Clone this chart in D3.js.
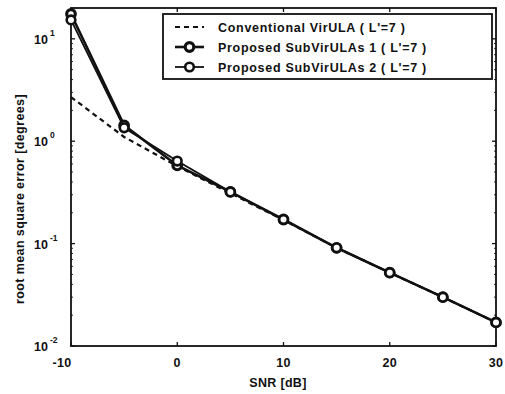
<!DOCTYPE html>
<html>
<head>
<meta charset="utf-8">
<script src="https://cdn.jsdelivr.net/npm/d3@7"></script>
<style>
  html, body { margin: 0; padding: 0; background: #fff; }
  svg text { font-family: "Liberation Sans", Arial, sans-serif; font-weight: bold; fill: #111; }
</style>
</head>
<body>
<svg id="chart" width="505" height="394"></svg>
<script>
// ---- data ----
const snr = [-10, -5, 0, 5, 10, 15, 20, 25, 30];
const conventional = [2.7, 1.1, 0.57, 0.31, 0.17, 0.091, 0.052, 0.030, 0.017];
const proposed1 = [17.5, 1.43, 0.58, 0.32, 0.172, 0.091, 0.052, 0.030, 0.017];
const proposed2 = [15.3, 1.35, 0.64, 0.32, 0.172, 0.091, 0.052, 0.030, 0.017];
const xTicks = [-10, 0, 10, 20, 30];
const yTicks = [0.01, 0.1, 1, 10];
const yTickExp = ["-2", "-1", "0", "1"];
const seriesNames = ["Conventional VirULA ( L'=7 )", "Proposed SubVirULAs 1 ( L'=7 )", "Proposed SubVirULAs 2 ( L'=7 )"];
const xLabel = "SNR [dB]";
const yLabel = "root mean square error [degrees]";

// ---- layout ----
const L = 71, R = 496, T = 8, B = 346;
const svg = d3.select("#chart");
svg.append("rect").attr("width", 505).attr("height", 394).attr("fill", "#fff");

const x = d3.scaleLinear().domain([-10, 30]).range([L, R]);
const y = d3.scaleLog().domain([0.01, 20]).range([B, T]);

// frame
svg.append("rect").attr("x", L).attr("y", T).attr("width", R - L).attr("height", B - T)
  .attr("fill", "none").attr("stroke", "#111").attr("stroke-width", 1.8);

// ticks (inward, mirrored)
const tk = svg.append("g").attr("stroke", "#111").attr("stroke-width", 1.3);
xTicks.forEach(v => {
  tk.append("line").attr("x1", x(v)).attr("x2", x(v)).attr("y1", B).attr("y2", B - 4);
  tk.append("line").attr("x1", x(v)).attr("x2", x(v)).attr("y1", T).attr("y2", T + 4);
});
yTicks.forEach(v => {
  tk.append("line").attr("x1", L).attr("x2", L + 4).attr("y1", y(v)).attr("y2", y(v));
  tk.append("line").attr("x1", R).attr("x2", R - 4).attr("y1", y(v)).attr("y2", y(v));
});
// minor log ticks
const minor = [];
[0.01, 0.1, 1, 10].forEach(d => { for (let k = 2; k <= 9; k++) { const v = d * k; if (v <= 20) minor.push(v); } });
minor.forEach(v => {
  tk.append("line").attr("x1", L).attr("x2", L + 2).attr("y1", y(v)).attr("y2", y(v)).attr("stroke-width", 0.9);
  tk.append("line").attr("x1", R).attr("x2", R - 2).attr("y1", y(v)).attr("y2", y(v)).attr("stroke-width", 0.9);
});

// tick labels
xTicks.forEach(v => {
  svg.append("text").attr("x", v === -10 ? x(v) - 9 : x(v)).attr("y", 367).attr("text-anchor", "middle")
    .attr("font-size", 12.5).attr("letter-spacing", 0.3).text(v);
});
yTicks.forEach((v, i) => {
  svg.append("text").attr("x", 48).attr("y", y(v) + 5).attr("text-anchor", "end")
    .attr("font-size", 12.5).text("10");
  svg.append("text").attr("x", 50).attr("y", y(v) - 3).attr("font-size", 8.5).text(yTickExp[i]);
});

// axis labels
svg.append("text").attr("x", 278).attr("y", 387).attr("text-anchor", "middle").attr("font-size", 12.5)
  .attr("letter-spacing", 0.3).text(xLabel);
svg.append("text").attr("transform", "translate(24,199) rotate(-90)").attr("text-anchor", "middle")
  .attr("font-size", 12.5).attr("letter-spacing", 0.4).text(yLabel);

// series
const line = d3.line().x((d, i) => x(snr[i])).y(d => y(d));
svg.append("path").datum(conventional).attr("d", line).attr("fill", "none")
  .attr("stroke", "#111").attr("stroke-width", 2.2).attr("stroke-dasharray", "5,4");
svg.append("path").datum(proposed2).attr("d", line).attr("fill", "none")
  .attr("stroke", "#111").attr("stroke-width", 1.8);
svg.append("path").datum(proposed1).attr("d", line).attr("fill", "none")
  .attr("stroke", "#111").attr("stroke-width", 2.6);
[proposed1, proposed2].forEach((s, j) => {
  svg.append("g").selectAll("circle").data(s).join("circle")
    .attr("cx", (d, i) => x(snr[i])).attr("cy", d => y(d)).attr("r", 4.3)
    .attr("fill", "#fff").attr("stroke", "#111").attr("stroke-width", j === 0 ? 3.2 : 2.6);
});

// legend
const lg = svg.append("g");
lg.append("rect").attr("x", 163).attr("y", 14).attr("width", 329).attr("height", 65)
  .attr("fill", "#fff").attr("stroke", "#111").attr("stroke-width", 1.8);
const rows = [27, 47, 67];
rows.forEach((ry, i) => {
  const ln = lg.append("line").attr("x1", 175).attr("x2", 204).attr("y1", ry).attr("y2", ry)
    .attr("stroke", "#111").attr("stroke-width", i === 0 ? 2.2 : (i === 1 ? 2.6 : 1.8));
  if (i === 0) ln.attr("stroke-dasharray", "5,4");
  else lg.append("circle").attr("cx", 189.5).attr("cy", ry).attr("r", 4.3).attr("fill", "#fff")
    .attr("stroke", "#111").attr("stroke-width", i === 1 ? 3.2 : 2.6);
  lg.append("text").attr("x", 218).attr("y", ry + 4.5).attr("font-size", 12.5)
    .attr("letter-spacing", 0.7).text(seriesNames[i]);
});
</script>
</body>
</html>
